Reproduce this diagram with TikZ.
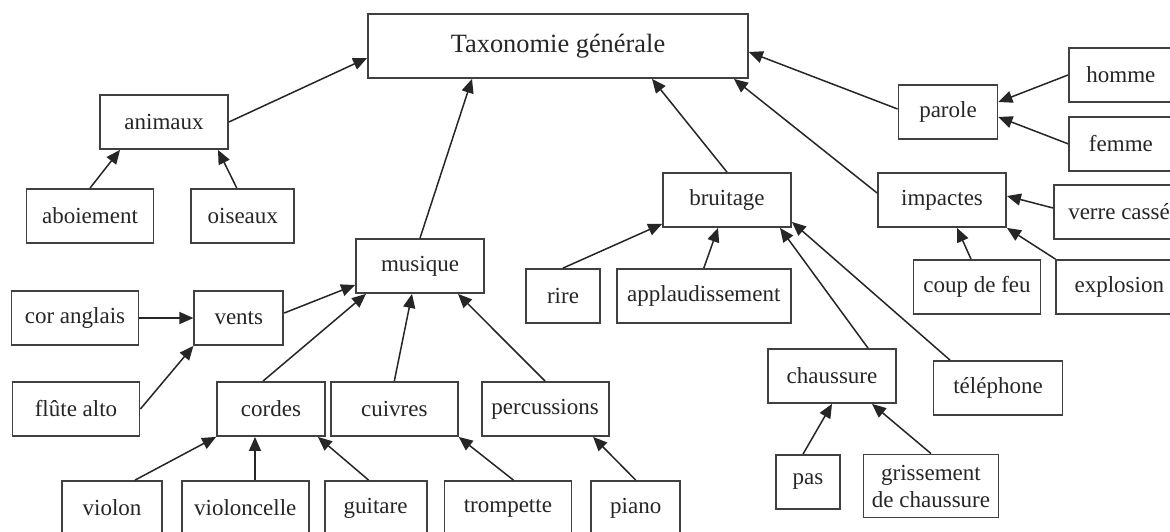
\documentclass[tikz,border=0pt]{standalone}
\usepackage{fontspec}
\setmainfont{Liberation Serif}
\usetikzlibrary{arrows.meta,positioning}

\begin{document}
\begin{tikzpicture}[
  x=0.5pt, y=-0.5pt,
  taxbox/.style={
    draw=black!75,
    line width=0.9pt,
    minimum height=27pt,
    inner sep=2pt,
    text=black!85,
    font=\fontsize{11.5}{13.5}\selectfont
  },
  flow/.style={-{Triangle[length=7pt,width=6pt]}, line width=0.75pt, black!85}
]
\useasboundingbox[fill=white] (0,0) rectangle (1170,531);

\node[taxbox, minimum width=190pt, minimum height=32pt, font=\fontsize{13.2}{15}\selectfont] (tax) at (558,46) {Taxonomie générale};
\node[taxbox, minimum width=64pt] (animaux) at (164,122) {animaux};
\node[taxbox, minimum width=63.5pt] (aboiement) at (90,216) {aboiement};
\node[taxbox, minimum width=51.5pt, right=18pt of aboiement] (oiseaux) {oiseaux};
\node[taxbox, minimum width=64pt] (musique) at (420,266) {musique};
\node[taxbox, minimum width=63.5pt] (coranglais) at (75,318) {cor anglais};
\node[taxbox, minimum width=44.5pt, right=27pt of coranglais] (vents) {vents};
\node[taxbox, minimum width=63.5pt] (flute) at (76,409) {flûte alto};
\node[taxbox, minimum width=54pt] (cordes) at (271,409) {cordes};
\node[taxbox, minimum width=63.5pt, right=2pt of cordes] (cuivres) {cuivres};
\node[taxbox, minimum width=63.5pt, right=11pt of cuivres] (percussions) {percussions};
\node[taxbox, minimum width=50pt] (violon) at (112,508) {violon};
\node[taxbox, minimum width=63.5pt, right=9pt of violon] (violoncelle) {violoncelle};
\node[taxbox, minimum width=51pt, right=7pt of violoncelle] (guitare) {guitare};
\node[taxbox, minimum width=63.5pt, right=8pt of guitare] (trompette) {trompette};
\node[taxbox, minimum width=44.5pt, right=9pt of trompette] (piano) {piano};
\node[taxbox, minimum width=64pt] (bruitage) at (727,200) {bruitage};
\node[taxbox, minimum width=37pt] (rire) at (563,296) {rire};
\node[taxbox, minimum width=87pt, right=7.5pt of rire] (applaud) {applaudissement};
\node[taxbox, minimum width=64pt] (chaussure) at (832,376) {chaussure};
\node[taxbox, minimum width=64.5pt] (telephone) at (998,388) {téléphone};
\node[taxbox, minimum width=32pt] (pas) at (808,482) {pas};
\node[taxbox, minimum width=67.5pt, minimum height=31.5pt, align=center] (grissement) at (931,486) {grissement\\de chaussure};
\node[taxbox, minimum width=49.5pt] (parole) at (948,112) {parole};
\node[taxbox, minimum width=56pt, anchor=west] (homme) at (1068,75) {\hspace*{-4pt}homme};
\node[taxbox, minimum width=56pt, below=6.5pt of homme] (femme) {\hspace*{-4pt}femme};
\node[taxbox, minimum width=64pt] (impactes) at (942,200) {impactes};
\node[taxbox, minimum width=65pt] (verre) at (1119,212) {verre cassé};
\node[taxbox, minimum width=63.5pt] (coupdefeu) at (977,287) {coup de feu};
\node[taxbox, minimum width=63pt, right=7pt of coupdefeu] (explosion) {explosion};

\draw[flow] (animaux.east) -- ([yshift=-6pt]tax.west);
\draw[flow] (aboiement.north) -- ([xshift=-22pt]animaux.south);
\draw[flow] ([xshift=-3pt]oiseaux.north) -- ([xshift=27pt]animaux.south);
\draw[flow] (musique.north) -- ([xshift=-43pt]tax.south);
\draw[flow] (bruitage.north) -- ([xshift=47pt]tax.south);
\draw[flow] ([yshift=1.5pt]parole.west) -- ([yshift=-3pt]tax.east);
\draw[flow] ([yshift=3.5pt]impactes.west) -- ([xshift=-7.5pt]tax.south east);
\draw[flow] (homme.west) -- ([yshift=5pt]parole.east);
\draw[flow] (femme.west) -- ([yshift=-2.5pt]parole.east);
\draw[flow] ([yshift=2pt]verre.west) -- ([yshift=2pt]impactes.east);
\draw[flow] ([xshift=-3pt]coupdefeu.north) -- ([xshift=7.5pt]impactes.south);
\draw[flow] (explosion.north west) -- (impactes.south east);
\draw[flow] (rire.north) -- ([yshift=2pt]bruitage.south west);
\draw[flow] (applaud.north) -- ([xshift=-4.5pt]bruitage.south);
\draw[flow] ([xshift=18pt]chaussure.north) -- ([xshift=26.5pt]bruitage.south);
\draw[flow] ([xshift=-24pt]telephone.north) -- ([yshift=3pt]bruitage.south east);
\draw[flow] ([xshift=-2.5pt]pas.north) -- (chaussure.south);
\draw[flow] (grissement.north) -- ([xshift=20pt]chaussure.south);
\draw[flow] ([yshift=2.5pt]vents.east) -- ([yshift=-9.5pt]musique.west);
\draw[flow] (coranglais) -- (vents);
\draw[flow] (flute.east) -- (vents.south west);
\draw[flow] ([xshift=-4pt]cordes.north) -- ([xshift=-27pt]musique.south);
\draw[flow] (cuivres.north) -- ([xshift=-4pt]musique.south);
\draw[flow] (percussions.north) -- ([xshift=19pt]musique.south);
\draw[flow] ([xshift=11.5pt]violon.north) -- (cordes.south west);
\draw[flow] ([xshift=-8pt]cordes.south |- violoncelle.north) -- ([xshift=-8pt]cordes.south);
\draw[flow] ([xshift=-3.5pt]guitare.north) -- ([xshift=-4pt]cordes.south east);
\draw[flow] ([xshift=2.75pt]trompette.north) -- (cuivres.south east);
\draw[flow] (piano.north) -- ([xshift=24pt]percussions.south);
\end{tikzpicture}
\end{document}
